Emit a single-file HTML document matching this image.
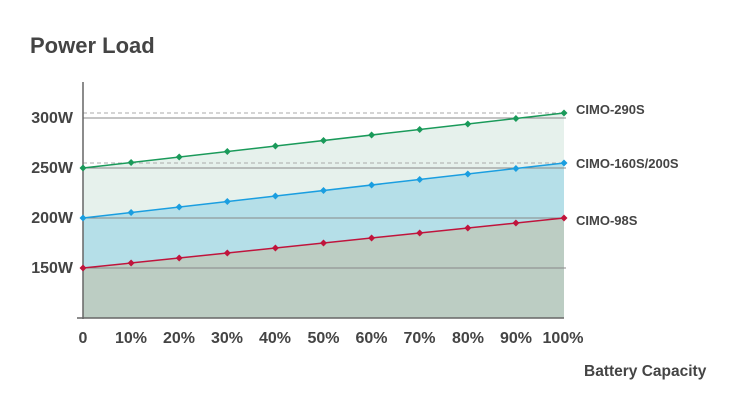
<!DOCTYPE html>
<html><head><meta charset="utf-8"><style>
html,body{margin:0;padding:0;background:#fff;}
svg{display:block;font-family:"Liberation Sans",sans-serif;}
</style></head><body>
<svg width="740" height="406" viewBox="0 0 740 406">
<defs><polygon id="d" points="0,-3.5 3.5,0 0,3.5 -3.5,0"/></defs>
<text x="30" y="53" font-size="22" font-weight="bold" fill="#444">Power Load</text>
<polygon points="83,168 564,113 564,318 83,318" fill="#e6f1ec"/>
<polygon points="83,218 564,163 564,318 83,318" fill="#b5dfe8"/>
<polygon points="83,268 564,218 564,318 83,318" fill="#bccdc3"/>
<g stroke="#888" stroke-width="1">
<line x1="83" y1="118" x2="566" y2="118"/>
<line x1="83" y1="168" x2="566" y2="168"/>
<line x1="83" y1="218" x2="566" y2="218"/>
<line x1="83" y1="268" x2="566" y2="268"/>
</g>
<g stroke="#aaa" stroke-width="1" stroke-dasharray="4,3">
<line x1="83" y1="113" x2="566" y2="113"/>
<line x1="83" y1="163" x2="566" y2="163"/>
</g>
<line x1="83" y1="82" x2="83" y2="319" stroke="#666" stroke-width="1.5"/>
<line x1="77" y1="318" x2="564" y2="318" stroke="#666" stroke-width="1.5"/>
<g stroke-width="1.5" fill="none">
<line x1="83" y1="168" x2="564" y2="113" stroke="#1a9a5a"/>
<line x1="83" y1="218" x2="564" y2="163" stroke="#1a9ee0"/>
<line x1="83" y1="268" x2="564" y2="218" stroke="#c0143c"/>
</g>
<g fill="#1a9a5a">
<use href="#d" x="83" y="168"/><use href="#d" x="131.1" y="162.5"/><use href="#d" x="179.2" y="157"/><use href="#d" x="227.3" y="151.5"/><use href="#d" x="275.4" y="146"/><use href="#d" x="323.5" y="140.5"/><use href="#d" x="371.6" y="135"/><use href="#d" x="419.7" y="129.5"/><use href="#d" x="467.8" y="124"/><use href="#d" x="515.9" y="118.5"/><use href="#d" x="564" y="113"/>
</g>
<g fill="#1a9ee0">
<use href="#d" x="83" y="218"/><use href="#d" x="131.1" y="212.5"/><use href="#d" x="179.2" y="207"/><use href="#d" x="227.3" y="201.5"/><use href="#d" x="275.4" y="196"/><use href="#d" x="323.5" y="190.5"/><use href="#d" x="371.6" y="185"/><use href="#d" x="419.7" y="179.5"/><use href="#d" x="467.8" y="174"/><use href="#d" x="515.9" y="168.5"/><use href="#d" x="564" y="163"/>
</g>
<g fill="#c0143c">
<use href="#d" x="83" y="268"/><use href="#d" x="131.1" y="263"/><use href="#d" x="179.2" y="258"/><use href="#d" x="227.3" y="253"/><use href="#d" x="275.4" y="248"/><use href="#d" x="323.5" y="243"/><use href="#d" x="371.6" y="238"/><use href="#d" x="419.7" y="233"/><use href="#d" x="467.8" y="228"/><use href="#d" x="515.9" y="223"/><use href="#d" x="564" y="218"/>
</g>
<g font-size="16" font-weight="bold" fill="#444" text-anchor="end">
<text x="73" y="123">300W</text>
<text x="73" y="173">250W</text>
<text x="73" y="223">200W</text>
<text x="73" y="273">150W</text>
</g>
<g font-size="16" font-weight="bold" fill="#444" text-anchor="middle">
<text x="83" y="343">0</text>
<text x="131" y="343">10%</text>
<text x="179" y="343">20%</text>
<text x="227" y="343">30%</text>
<text x="275" y="343">40%</text>
<text x="323.5" y="343">50%</text>
<text x="371.5" y="343">60%</text>
<text x="419.5" y="343">70%</text>
<text x="468" y="343">80%</text>
<text x="516" y="343">90%</text>
<text x="563" y="343">100%</text>
</g>
<g font-size="13" font-weight="bold" fill="#444">
<text x="576" y="114">CIMO-290S</text>
<text x="576" y="168">CIMO-160S/200S</text>
<text x="576" y="225">CIMO-98S</text>
</g>
<text x="584" y="376" font-size="15.5" font-weight="bold" fill="#444">Battery Capacity</text>
</svg>
</body></html>
